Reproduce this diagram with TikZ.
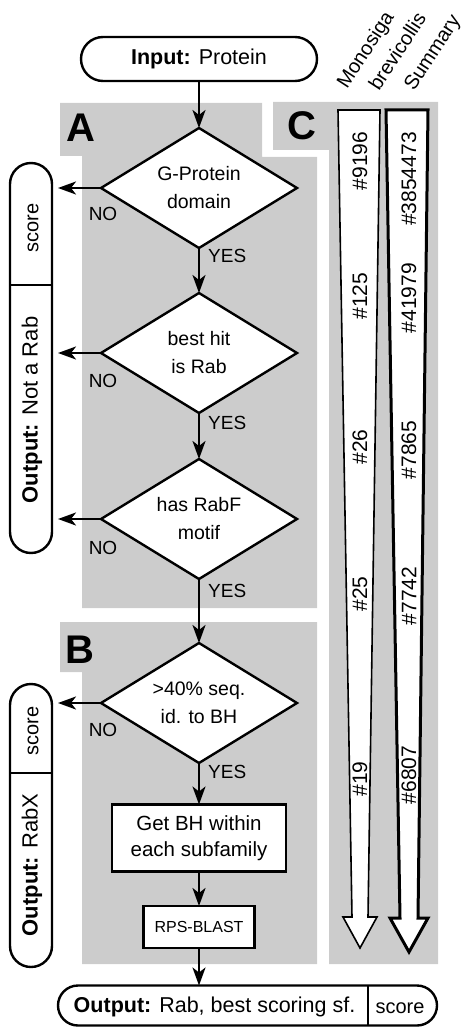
\documentclass[tikz,border=0pt]{standalone}
\usepackage{fontspec}
\setmainfont{Liberation Sans}
\usetikzlibrary{shapes.geometric,shapes.misc,arrows.meta,calc}
\begin{document}
\begin{tikzpicture}[x=1pt,y=-1pt,
  panel/.style={fill=black!20, draw=none},
  flow/.style={line width=2.4pt, -{Stealth[length=18pt,width=13pt,inset=5pt]}},
  decision/.style={diamond, draw, line width=2.4pt, fill=white, minimum width=196pt, minimum height=120pt, inner sep=0pt, outer sep=0pt, shape aspect=1.63, align=center, font=\fontsize{19.5pt}{28pt}\selectfont},
  proc/.style={rectangle, draw, line width=2.4pt, fill=white, inner sep=0pt, outer sep=0pt, align=center},
  term/.style={rounded rectangle, draw, line width=2.4pt, fill=white, inner sep=0pt, outer sep=0pt},
  lab/.style={inner sep=0pt, font=\fontsize{19pt}{19pt}\selectfont},
  biglab/.style={inner sep=0pt, font=\fontsize{40pt}{40pt}\selectfont\bfseries},
  num/.style={rotate=90, inner sep=0pt, font=\fontsize{21pt}{21pt}\selectfont},
  hdr/.style={rotate=57, anchor=base west, inner sep=0pt, font=\fontsize{20pt}{20pt}\selectfont},
  vtext/.style={rotate=90, inner sep=0pt},
  bigarrow/.style={fill=white, draw, line join=miter}
]
\useasboundingbox (0,0) rectangle (467,1027);

% panels
\fill[panel] (60,103) -- (262,103) -- (262,157) -- (317,157) -- (317,608) -- (82,608) -- (82,156) -- (60,156) -- cycle;
\fill[panel] (60,622) -- (317,622) -- (317,964) -- (82,964) -- (82,672) -- (60,672) -- cycle;
\fill[panel] (273,102) -- (438,102) -- (438,964) -- (329,964) -- (329,150) -- (273,150) -- cycle;

\node[biglab] (la) at (81,128) {A};
\node[biglab] (lb) at (80,650) {B};
\node[biglab] (lc) at (302,126) {C};

% input
\node[term, minimum width=236pt, minimum height=44pt, font=\fontsize{21.5pt}{21pt}\selectfont] (in) at (199,59) {\textbf{Input:} Protein};

% decisions
\node[decision] (d1) at (199,188) {G-Protein\\domain};
\node[decision] (d2) at (199,353) {best hit\\is Rab};
\node[decision] (d3) at (199,519) {has RabF\\motif};
\node[decision] (d4) at (199,703) {>40\% seq.\\id. to BH};

\node[proc, minimum width=174pt, minimum height=67pt, font=\fontsize{20.5pt}{26pt}\selectfont] (b1) at (199,838) {Get BH within\\each subfamily};
\node[proc, minimum width=111pt, minimum height=42pt, font=\fontsize{16pt}{16pt}\selectfont] (b2) at (199,927) {RPS-BLAST};

% bottom output
\node[term, minimum width=379pt, minimum height=40pt] (out) at (247.5,1005.5) {};
\node[inner sep=0pt, font=\fontsize{21.5pt}{21pt}\selectfont] (outt) at (214.5,1007) {\textbf{Output:} Rab, best scoring sf.};
\node[inner sep=0pt, font=\fontsize{20pt}{20pt}\selectfont] (outs) at (400,1008) {score};
\coordinate (dv) at (368,0);
\draw[line width=2.4pt] (out.north -| dv) -- (out.south -| dv);

% left outputs
\node[term, rotate=90, minimum width=390pt, minimum height=42pt] (o1) at (31,358) {};
\draw[line width=2.4pt] (10,285) -- (52,285);
\node[vtext, font=\fontsize{20pt}{20pt}\selectfont] (o1s) at (33,228) {score};
\node[vtext, font=\fontsize{22pt}{22pt}\selectfont] (o1t) at (32,410) {\textbf{Output:} Not a Rab};

\node[term, rotate=90, minimum width=283pt, minimum height=42pt] (o2) at (31,825.5) {};
\draw[line width=2.4pt] (10,773) -- (52,773);
\node[vtext, font=\fontsize{20pt}{20pt}\selectfont] (o2s) at (33,731) {score};
\node[vtext, font=\fontsize{22pt}{22pt}\selectfont] (o2t) at (32,865) {\textbf{Output:} RabX};

% connectors
\draw[flow] (in.south) -- (d1.north);
\draw[flow] (d1.south) -- (d2.north);
\draw[flow] (d2.south) -- (d3.north);
\draw[flow] (d3.south) -- (d4.north);
\draw[flow] (d4.south) -- (b1.north);
\draw[flow] (b1.south) -- (b2.north);
\draw[flow] (b2.south) -- (b2.south |- out.north);

\coordinate (n1) at (58,188);
\coordinate (n2) at (58,353);
\coordinate (n3) at (58,519);
\coordinate (n4) at (58,703);
\draw[flow] (d1.west) -- (n1);
\draw[flow] (d2.west) -- (n2);
\draw[flow] (d3.west) -- (n3);
\draw[flow] (d4.west) -- (n4);

\node[lab] (no1) at (103,214) {NO};
\node[lab] (no2) at (103,381) {NO};
\node[lab] (no3) at (103,548) {NO};
\node[lab] (no4) at (103,730) {NO};
\node[lab, anchor=west] (y1) at (208,256) {YES};
\node[lab, anchor=west] (y2) at (208,423) {YES};
\node[lab, anchor=west] (y3) at (208,591) {YES};
\node[lab, anchor=west] (y4) at (208,772) {YES};

% panel C arrows
\draw[bigarrow, line width=1.6pt] (338,110) -- (380,110) -- (368,917) -- (377,917) -- (360,948) -- (343,917) -- (352,917) -- cycle;
\draw[bigarrow, line width=3pt] (386,110) -- (428,110) -- (418,918) -- (428,918) -- (409,952) -- (390,918) -- (400,918) -- cycle;

\node[num] (m1) at (360,161) {\#9196};
\node[num] (m2) at (360,296) {\#125};
\node[num] (m3) at (360,447) {\#26};
\node[num] (m4) at (360,594) {\#25};
\node[num] (m5) at (360,779) {\#19};
\node[num] (s1) at (409,179) {\#3854473};
\node[num] (s2) at (409,298) {\#41979};
\node[num] (s3) at (409,450) {\#7865};
\node[num] (s4) at (409,596) {\#7742};
\node[num] (s5) at (409,775) {\#6807};

\begin{scope}[y=1pt]
\node[hdr] (h1) at (347,-90) {Monosiga};
\node[hdr] (h2) at (379,-92) {brevicollis};
\node[hdr] (h3) at (414,-92) {Summary};
\end{scope}
\end{tikzpicture}
\end{document}
